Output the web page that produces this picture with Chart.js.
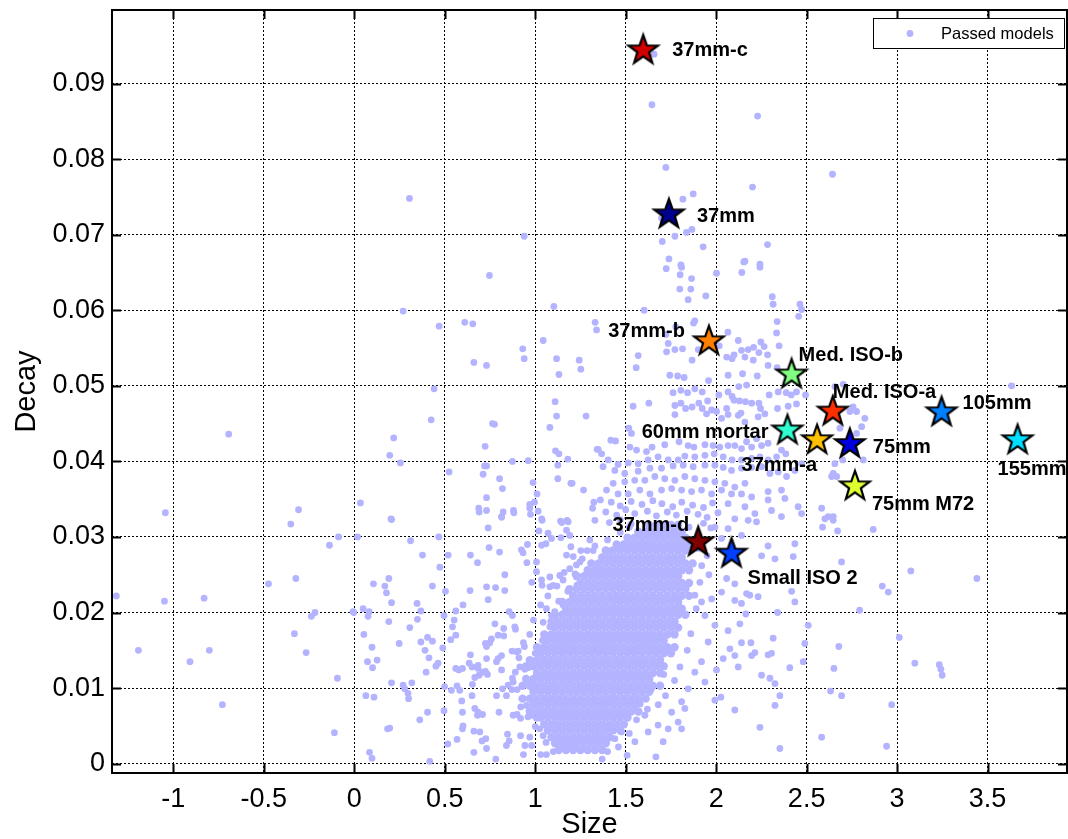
<!DOCTYPE html>
<html>
<head>
<meta charset="utf-8">
<title>Decay vs Size</title>
<script src="https://cdn.jsdelivr.net/npm/chart.js@4.4.0/dist/chart.umd.min.js"></script>
<style>
    html, body { margin: 0; padding: 0; background: #fff; }
    #wrap { width: 1068px; height: 839px; }
</style>
</head>
<body>
<div id="wrap"><canvas id="decayChart" width="1068" height="839"></canvas></div>
<script>
// Named targets (stars)
var targetNames = ['37mm-c', '37mm', '37mm-b', 'Med. ISO-b', 'Med. ISO-a', '60mm mortar', '37mm-a', '75mm', '105mm', '155mm', '75mm M72', '37mm-d', 'Small ISO 2'];
var targetSize = [1.597, 1.739, 1.960, 2.417, 2.645, 2.394, 2.558, 2.739, 3.246, 3.666, 2.767, 1.901, 2.085];
var targetDecay = [0.0944, 0.0727, 0.0559, 0.0515, 0.0466, 0.0441, 0.0428, 0.0423, 0.0465, 0.0428, 0.0367, 0.0293, 0.0278];

var xTicks = [-1, -0.5, 0, 0.5, 1, 1.5, 2, 2.5, 3, 3.5];
var yTicks = [0, 0.01, 0.02, 0.03, 0.04, 0.05, 0.06, 0.07, 0.08, 0.09];

// Passed models, scattered points [size, decay]
var passedOuter = [
    [0.305,.0748],[0.939,.0698],[1.657,.0939],[1.645,.0872],[2.229,.0857],[1.722,.0789],[2.201,.0763],[2.643,.078],[1.816,.0747],[1.873,.0754],
    [1.698,.0722],[1.772,.0698],[1.836,.0703],[1.866,.0707],[1.702,.0691],[1.928,.0684],[2.284,.0687],[1.739,.0668],[2.159,.0665],[2.242,.0661],[1.805,.066],
    [-0.694,.0436],[-1.044,.0332],[-0.308,.0336],
    [0.747,.0646],[0.27,.0599],[0.469,.0579],[0.611,.0584],[0.655,.0582],[1.103,.0605],[1.331,.0584],[1.339,.0574],[1.044,.056],[0.931,.0549],
    [0.939,.0536],[0.661,.0531],[0.731,.0527],[1.118,.0536],[1.243,.0534],[1.252,.0522],[1.131,.0515],[0.441,.0496],[1.11,.0479],[1.118,.046],
    [1.281,.046],[0.425,.0455],[0.764,.045],[0.775,.0449],[1.081,.0445],[0.218,.0431],[0.723,.042],[0.196,.0408],[0.255,.0398],[1.112,.0414],
    [1.131,.041],[1.342,.0416],[1.18,.0403],[0.874,.04],[0.961,.0401],[0.524,.0386],[0.72,.0394],[0.731,.0394],[0.712,.0383],[1.125,.0395],
    [0.803,.0377],[0.988,.0372],[1.125,.0377],[1.197,.0371],[1.204,.0371],[0.819,.0364],[1.267,.0362],[1.01,.0357],[0.034,.0345],[0.731,.0352],
    [0.97,.0343],[0.996,.0346],[1.324,.0346],[1.317,.0338],[0.688,.0338],[0.69,.0333],[0.731,.0335],[0.823,.0333],[0.814,.0327],[0.88,.0335],
    [0.882,.0332],[0.97,.0338],[1.016,.0334],[0.974,.033],[0.203,.0324],[1.036,.0324],[1.14,.0321],[1.176,.0322],
    [1.724,.0655],[1.809,.0657],[1.801,.0647],[1.864,.0642],[2.002,.0649],[2.153,.0664],[2.142,.065],[2.242,.0657],[1.799,.0628],[1.86,.0628],
    [1.943,.0619],[1.845,.0614],[2.31,.0618],[2.315,.0608],[2.463,.0608],[2.472,.0601],[1.602,.06],[1.882,.0586],[1.875,.0583],[1.777,.0578],
    [1.722,.0568],[1.735,.0556],[1.814,.0549],[1.772,.0548],[1.726,.0545],[1.569,.054],[1.558,.0524],[1.901,.0548],[1.867,.0534],[2.065,.0571],
    [2.122,.056],[2.017,.0553],[2.058,.0538],[2.099,.0541],[2.14,.0547],[2.177,.0548],[2.207,.0551],[2.247,.0558],[2.265,.0552],[2.236,.0544],
    [2.205,.0534],[2.284,.0541],[2.334,.057],[2.337,.0585],[2.348,.0553],[2.456,.0592],[2.159,.0538],[2.088,.0536],[2.287,.0527],[2.337,.0524],
    [1.744,.0514],[1.787,.0513],[1.823,.0511],[1.958,.0507],[2.066,.0514],[2.146,.0516],[2.227,.0513],[2.125,.0499],[2.168,.0501],[2.066,.0492],
    [2.088,.0486],[2.099,.0481],[2.129,.048],[2.162,.0479],[2.196,.0477],[2.236,.0477],[2.245,.047],[2.293,.0488],[2.343,.0492],[2.387,.0491],
    [2.415,.0488],[2.444,.0492],[2.494,.0488],[2.398,.0473],[2.444,.0476],[2.339,.047],[2.269,.0463],[2.232,.0459],[2.137,.0464],[2.159,.0452],
    [2.122,.0461],[2.015,.0488],[1.923,.0492],[1.842,.0491],[1.882,.0496],[1.805,.0494],[1.762,.0491],[1.805,.0477],[1.831,.047],[1.867,.0472],
    [1.904,.0477],[1.953,.048],[1.923,.047],[1.975,.0468],[2.002,.0466],[2.058,.047],[1.772,.0474],[1.772,.0462],[1.628,.0477],[1.541,.0473],
    [1.947,.0463],[2.03,.0457],[2.066,.0462],
    [1.517,.0444],[1.532,.0437],[1.418,.0428],[1.444,.0427],[1.348,.0416],[1.367,.041],[1.523,.0419],[1.56,.0415],[1.615,.0413],[1.646,.0419],
    [1.716,.0422],[1.795,.0426],[1.845,.0421],[1.877,.0419],[1.938,.0422],[1.983,.0421],[2.02,.0419],[2.066,.0421],[2.103,.0421],[2.14,.0417],
    [2.168,.0426],[2.196,.0419],[2.223,.043],[2.251,.0421],[2.287,.0424],[2.361,.0415],[2.385,.041],[2.334,.0406],[2.287,.0402],[2.242,.0406],
    [2.196,.0404],[2.14,.0402],[2.088,.0402],[2.039,.0406],[1.989,.041],[1.938,.0408],[1.882,.0406],[1.827,.0407],[1.79,.0402],[1.735,.0402],
    [1.679,.0406],[1.624,.0402],[1.569,.0397],[1.514,.0398],[1.458,.0396],[1.403,.0402],[1.375,.0393],[1.44,.0388],[1.495,.0384],[1.569,.0387],
    [1.634,.0391],[1.698,.0391],[1.762,.0394],[1.818,.0395],[1.873,.0393],[1.938,.0395],[1.993,.0395],[2.039,.0392],[2.085,.0388],[2.14,.0391],
    [2.196,.0392],[2.251,.0393],[2.297,.0384],[2.343,.0386],[2.389,.038],[2.435,.0388],[2.472,.0397],[2.647,.0384],[2.361,.0362],[2.287,.036],
    [2.159,.0371],[2.103,.0366],[2.048,.0371],[1.993,.0373],[1.938,.0375],[1.882,.0377],[1.827,.038],[1.772,.0375],[1.716,.0377],[1.661,.038],
    [1.606,.0375],[1.55,.0375],[1.495,.0373],[1.431,.0371],[1.394,.0362],[1.458,.0357],[1.514,.0357],[1.578,.0362],[1.634,.0357],[1.698,.0362],
    [1.754,.0364],[1.809,.0362],[1.864,.036],[1.919,.0362],[1.975,.0357],[2.03,.0362],[2.085,.0357],[2.14,.0357],[2.196,.0353],[2.287,.0349],
    [2.38,.0351],[2.453,.034],[2.066,.0344],[2.159,.034],[2.214,.0331],[2.306,.0335],[2.361,.0327],[2.472,.0331],[2.583,.0338],[2.619,.0327],
    [1.36,.0349],[1.42,.0346],[1.47,.0341],[1.53,.0347],[1.59,.0343],[1.65,.0348],[1.70,.0344],[1.76,.034],[1.81,.0346],[1.87,.0342],
    [1.93,.0339],[1.98,.0345],[1.39,.0333],[1.45,.0329],[1.5,.0336],[1.55,.0331],[1.62,.0334],[1.67,.0328],[1.73,.0333],[1.78,.0329],
    [1.84,.0334],[1.9,.033],[1.95,.0326],[2.01,.0332],[1.33,.0322],[1.41,.0319],[1.47,.0323],[1.53,.0317],[1.93,.0318],[1.97,.0312],
    [3.633,.05],[2.656,.0499],[2.702,.0502],[2.757,.0472],[2.739,.0466],[2.776,.0466],[2.822,.0457],[2.684,.0444],[2.776,.0437],[2.804,.0446],
    [2.813,.0402],[2.699,.0402],[2.656,.0397],[2.638,.038],[2.666,.038],[2.647,.0327],
    [-0.351,.0317],[-0.137,.0289],[-0.087,.03],[-1.315,.0222],[-1.049,.0215],[-0.83,.0219],[-0.474,.0238],[-0.323,.0245],[-0.237,.0195],[-0.217,.02],
    [-0.007,.0201],[-0.331,.0172],[-1.193,.015],[-0.801,.015],[-0.908,.0135],[-0.266,.0147],[-0.093,.0113],[-0.729,.0078],[-0.11,.0041],
    [0.206,.0323],[0.018,.03],[0.311,.0295],[0.467,.03],[0.377,.0276],[0.519,.0276],[0.473,.026],[0.106,.0238],[0.191,.0245],[0.169,.0235],
    [0.178,.0226],[0.432,.0235],[0.206,.0213],[-0.003,.02],[0.049,.0205],[0.082,.0201],[0.076,.0195],[0.347,.0212],[0.368,.0202],[0.349,.0191],
    [0.191,.0188],[0.496,.0196],[0.504,.0228],[0.561,.0202],[0.552,.019],[0.543,.0181],[0.561,.017],[0.533,.0164],[0.601,.021],[0.64,.0229],
    [0.642,.0276],[0.681,.0266],[0.731,.0234],[0.781,.0233],[0.74,.0217],[0.832,.025],[0.832,.0229],[0.745,.0286],[0.803,.028],[0.74,.0312],
    [0.814,.0326],[0.924,.0283],[0.933,.0279],[0.957,.029],[0.954,.0266],[0.981,.024],
    [0.053,.0171],[0.098,.0154],[0.248,.0159],[0.307,.018],[0.368,.0161],[0.405,.0167],[0.432,.0162],[0.391,.015],[0.413,.014],[0.397,.0121],
    [0.463,.0133],[0.451,.0129],[0.489,.0153],[0.073,.0135],[0.101,.0127],[0.126,.0137],[0.206,.0107],[0.27,.0104],[0.279,.0099],[0.297,.0093],
    [0.3,.0086],[0.318,.0107],[0.064,.009],[0.109,.0088],[0.362,.0058],[0.405,.0068],[0.184,.0046],[0.196,.0047],[0.084,.0015],[0.098,.0007],
    [0.417,.0003],[0.496,.007],[0.517,.0026],[0.568,.0032],[0.598,.0046],[0.601,.005],[0.661,.0043],[0.694,.0042],[0.706,.003],[0.727,.0033],
    [0.731,.002],[0.661,.0015],[0.782,.0006],[0.681,.0064],[0.709,.0065],[0.666,.0073],[0.684,.0068],[0.598,.0068],[0.594,.0083],[0.651,.009],
    [0.653,.0105],[0.499,.0102],[0.537,.0097],[0.568,.0103],[0.583,.0097],[0.561,.0126],[0.578,.0124],[0.598,.0126],[0.635,.0133],[0.651,.0128],
    [0.684,.0126],[0.69,.0117],[0.666,.0114],[0.684,.013],[0.725,.0122],[0.736,.0118],[0.709,.0121],[0.642,.0144],[0.725,.0159],[0.731,.0155],
    [0.749,.016],[0.758,.0165],[0.731,.0139],[0.786,.0135],[0.795,.0139],[0.814,.0143],[0.777,.0185],[0.795,.017],[0.826,.0169],[0.826,.0179],
    [0.856,.0201],[0.874,.0196],[0.887,.0181],[0.891,.0178],[0.935,.016],[0.872,.0149],[0.897,.0148],[0.906,.0149],[0.814,.0124],[0.874,.0113],
    [0.915,.0128],[0.943,.0125],[0.97,.0128],[0.985,.0135],[0.786,.009],[0.8,.0068],[0.819,.0099],[0.841,.009],[0.85,.0104],[0.871,.0098],
    [0.878,.0108],[0.847,.0039],[0.856,.003],[0.841,.0024],[0.878,.0064],[0.9,.0065],[0.919,.006],[0.919,.0037],[0.943,.0024],[0.97,.0035],
    [0.98,.0024],[0.935,.0012],[0.952,.0077],[0.98,.0064],[1.007,.006],[1.025,.0046],[1.044,.0037],[1.031,.0012],[1.062,.0012],[1.007,.0254],
    [1.035,.0243],[1.038,.0236],[1.081,.0234],[1.007,.0267],[1.02,.0308],[1.071,.0305],[1.09,.0298],[1.035,.0289],[1.059,.0291],[1.038,.0322],
    [1.147,.0319],[1.182,.032],[1.173,.0309],[1.191,.0302],[1.142,.0299],[1.252,.0282],[1.287,.0282],[1.197,.0287],[1.173,.0276],[1.21,.0274],
    [1.247,.0267],[1.302,.0296],[1.32,.0282],[1.081,.0247],[1.099,.0236],[1.136,.0249],[1.154,.0243],[1.191,.0258],[1.228,.0263],[1.062,.0205],
    [1.108,.0201],[1.154,.021],[1.191,.0196],[1.044,.0187],[1.081,.0181],[1.118,.0183],[1.154,.0185],[1.132,.0019],[1.182,.002],[1.215,.0023],
    [1.283,.0019],[1.247,.0035],[1.206,.0034],
    [2.223,.032],[2.287,.0288],[2.251,.0275],[2.325,.0271],[2.426,.0274],[2.435,.0291],[2.588,.0313],[2.601,.0324],[2.186,.0223],[2.232,.0221],
    [2.103,.0216],[2.14,.0212],[2.417,.0228],[2.435,.0214],[2.339,.02],[2.509,.0183],[2.164,.0198],[2.066,.0176],[2.131,.0185],[2.14,.016],
    [2.192,.016],[2.076,.0152],[2.103,.0143],[2.196,.0143],[2.214,.0147],[2.287,.0144],[2.306,.0146],[2.315,.0166],[2.49,.0159],[2.481,.0135],
    [2.407,.0127],[2.251,.0117],[2.297,.0113],[2.325,.0106],[2.352,.009],[2.325,.0077],[2.242,.0048],[2.352,.002],[2.583,.0035],[2.122,.0128],
    [2.039,.0139],[2.002,.0124],[2.026,.0088],[1.993,.0084],[2.103,.0071],[1.809,.0046],[1.707,.0029],[1.667,.0009],[1.508,.0011],
    [1.956,.0161],[1.919,.0135],[1.882,.0121],[1.938,.0108],[1.845,.0099],[1.809,.0082],[1.754,.0068],[1.827,.0073],[1.79,.0055],[1.735,.0046],
    [1.679,.0051],[1.606,.0064],[1.624,.0042],[1.551,.0029],[1.477,.0042],[1.44,.0033],[1.422,.0046],
    [1.938,.0196],[1.975,.0218],[1.919,.0214],[1.882,.0223],[1.993,.0183],[2.058,.0245],[2.103,.0238],[2.168,.0225],[2.03,.0227],
    [1.993,.0313],[2.066,.0311],[2.103,.0324],[2.177,.0322],[2.14,.0302],[2.03,.0298],
    [1.90,.0285],[1.95,.0275],[1.92,.0262],[1.96,.025],[1.91,.024],[1.89,.0205],[1.86,.0172],[1.84,.015],[1.80,.0128],[1.77,.011],
    [1.72,.009],[1.68,.0078],[1.62,.0072],[1.56,.0058],[1.52,.004],[1.46,.0022],[1.40,.0016],[1.37,.0006],[1.10,.0016],[1.06,.0028],
    [1.00,.0049],[0.96,.0062],[0.92,.0075],[0.90,.0098],[0.89,.0121],[0.91,.014],[0.94,.0155],[0.97,.0171],[0.99,.019],[1.03,.021],
    [1.07,.0222],[1.12,.0235],[1.16,.0253],[1.22,.0251],[1.26,.0271],[1.33,.0288],[1.40,.0296],[1.47,.0306],[1.52,.0313],[1.85,.0313],
    [1.74,.0148],[1.78,.0181],[1.71,.0118],[1.64,.0098],[1.58,.0079],[1.50,.0062],[1.44,.0051],[1.36,.0037],[1.03,.0064],[0.98,.0109],
    [0.96,.0127],[1.00,.0146],[1.04,.0163],[1.09,.0196],[1.13,.0215],[1.18,.0228],[1.23,.0236],[1.29,.0251],[1.35,.0263],[1.42,.0282],
    [2.647,.0322],[2.671,.0308],[2.868,.031],[2.693,.0267],[3.076,.0255],[3.441,.0245],[2.918,.0235],[2.951,.0227],[2.793,.0203],[3.012,.0167],
    [2.678,.0155],[2.651,.0126],[3.098,.0133],[3.233,.0131],[3.242,.0125],[3.249,.0117],[2.632,.0096],[2.693,.009],[2.97,.0078],[2.942,.0023]
];

// Passed models, dense cluster: [decay, sizes along that decay]
var clusterRows = [
    [.0018, [1.13,1.17,1.21,1.25,1.29,1.33,1.37]],
    [.0027, [1.11,1.15,1.19,1.23,1.27,1.31,1.35,1.39]],
    [.0035, [1.09,1.13,1.17,1.21,1.25,1.29,1.33,1.37,1.41]],
    [.0044, [1.07,1.11,1.15,1.19,1.23,1.27,1.31,1.35,1.39,1.43,1.47]],
    [.0052, [1.05,1.09,1.13,1.17,1.21,1.25,1.29,1.33,1.37,1.41,1.45,1.49]],
    [.0061, [1.03,1.07,1.11,1.15,1.19,1.23,1.27,1.31,1.35,1.39,1.43,1.47,1.51]],
    [.0069, [0.97,1.01,1.05,1.09,1.13,1.17,1.21,1.25,1.29,1.33,1.37,1.41,1.45,1.49,1.53,1.57]],
    [.0078, [0.99,1.03,1.07,1.11,1.15,1.19,1.23,1.27,1.31,1.35,1.39,1.43,1.47,1.51,1.55]],
    [.0086, [0.93,0.97,1.01,1.05,1.09,1.13,1.17,1.21,1.25,1.29,1.33,1.37,1.41,1.45,1.49,1.53,1.57,1.61]],
    [.0095, [0.99,1.03,1.07,1.11,1.15,1.19,1.23,1.27,1.31,1.35,1.39,1.43,1.47,1.51,1.55,1.59,1.63]],
    [.0103, [0.93,0.97,1.01,1.05,1.09,1.13,1.17,1.21,1.25,1.29,1.33,1.37,1.41,1.45,1.49,1.53,1.57,1.61,1.65,1.69]],
    [.0112, [0.95,0.99,1.03,1.07,1.11,1.15,1.19,1.23,1.27,1.31,1.35,1.39,1.43,1.47,1.51,1.55,1.59,1.63]],
    [.0120, [1.01,1.05,1.09,1.13,1.17,1.21,1.25,1.29,1.33,1.37,1.41,1.45,1.49,1.53,1.57,1.61,1.65,1.69]],
    [.0129, [0.95,0.99,1.03,1.07,1.11,1.15,1.19,1.23,1.27,1.31,1.35,1.39,1.43,1.47,1.51,1.55,1.59,1.63,1.67,1.71]],
    [.0137, [0.97,1.01,1.05,1.09,1.13,1.17,1.21,1.25,1.29,1.33,1.37,1.41,1.45,1.49,1.53,1.57,1.61,1.65,1.69]],
    [.0146, [1.03,1.07,1.11,1.15,1.19,1.23,1.27,1.31,1.35,1.39,1.43,1.47,1.51,1.55,1.59,1.63,1.67,1.71,1.75]],
    [.0154, [1.01,1.05,1.09,1.13,1.17,1.21,1.25,1.29,1.33,1.37,1.41,1.45,1.49,1.53,1.57,1.61,1.65,1.69,1.73,1.77]],
    [.0163, [1.07,1.11,1.15,1.19,1.23,1.27,1.31,1.35,1.39,1.43,1.47,1.51,1.55,1.59,1.63,1.67,1.71]],
    [.0171, [1.05,1.09,1.13,1.17,1.21,1.25,1.29,1.33,1.37,1.41,1.45,1.49,1.53,1.57,1.61,1.65,1.69,1.73,1.77]],
    [.0180, [1.11,1.15,1.19,1.23,1.27,1.31,1.35,1.39,1.43,1.47,1.51,1.55,1.59,1.63,1.67,1.71,1.75,1.79]],
    [.0188, [1.09,1.13,1.17,1.21,1.25,1.29,1.33,1.37,1.41,1.45,1.49,1.53,1.57,1.61,1.65,1.69,1.73,1.77]],
    [.0197, [1.11,1.15,1.19,1.23,1.27,1.31,1.35,1.39,1.43,1.47,1.51,1.55,1.59,1.63,1.67,1.71,1.75,1.79,1.83]],
    [.0205, [1.17,1.21,1.25,1.29,1.33,1.37,1.41,1.45,1.49,1.53,1.57,1.61,1.65,1.69,1.73,1.77,1.81]],
    [.0214, [1.15,1.19,1.23,1.27,1.31,1.35,1.39,1.43,1.47,1.51,1.55,1.59,1.63,1.67,1.71,1.75,1.79]],
    [.0222, [1.21,1.25,1.29,1.33,1.37,1.41,1.45,1.49,1.53,1.57,1.61,1.65,1.69,1.73,1.77,1.81,1.85]],
    [.0231, [1.19,1.23,1.27,1.31,1.35,1.39,1.43,1.47,1.51,1.55,1.59,1.63,1.67,1.71,1.75,1.79,1.83]],
    [.0239, [1.25,1.29,1.33,1.37,1.41,1.45,1.49,1.53,1.57,1.61,1.65,1.69,1.73,1.77,1.81,1.85]],
    [.0248, [1.23,1.27,1.31,1.35,1.39,1.43,1.47,1.51,1.55,1.59,1.63,1.67,1.71,1.75,1.79]],
    [.0256, [1.29,1.33,1.37,1.41,1.45,1.49,1.53,1.57,1.61,1.65,1.69,1.73,1.77,1.81,1.85]],
    [.0265, [1.31,1.35,1.39,1.43,1.47,1.51,1.55,1.59,1.63,1.67,1.71,1.75,1.79,1.83,1.87]],
    [.0273, [1.37,1.41,1.45,1.49,1.53,1.57,1.61,1.65,1.69,1.73,1.77,1.81]],
    [.0282, [1.39,1.43,1.47,1.51,1.55,1.59,1.63,1.67,1.71,1.75,1.79,1.83]],
    [.0290, [1.45,1.49,1.53,1.57,1.61,1.65,1.69,1.73,1.77,1.81,1.85]],
    [.0299, [1.51,1.55,1.59,1.63,1.67,1.71,1.75,1.79,1.83]],
    [.0307, [1.57,1.61,1.65,1.69,1.73,1.77,1.81]],
    [.0316, [1.63,1.67,1.71,1.75,1.79]]
];

var dotColor = 'rgb(179, 179, 255)';
var starColors = ['#d20000', '#00008f', '#ff8000', '#80ff80', '#ff3000', '#30ffcf', '#ffc000', '#0000df', '#0080ff', '#00dfff', '#dfff30', '#800000', '#0040ff'];
// label offset from the star centre: dx, dy, alignment
var labelPlacement = [
    [29, 0, 'left'], [28, 2, 'left'], [-24, -10, 'right'], [7, -19, 'left'], [0, -19, 'left'],
    [-19, 2, 'right'], [0, 25, 'right'], [23, 3, 'left'], [21, -9, 'left'], [-20, 29, 'left'],
    [17, 18, 'left'], [-9, -17, 'right'], [16, 25, 'left']
];
var FONT = '"Liberation Sans", Arial, Helvetica, sans-serif';

var clusterPoints = [];
clusterRows.forEach(function (row) {
    row[1].forEach(function (s) { clusterPoints.push({ x: s, y: row[0] }); });
});
var outerPoints = passedOuter.map(function (p) { return { x: p[0], y: p[1] }; });
var targetPoints = targetNames.map(function (_, i) { return { x: targetSize[i], y: targetDecay[i] }; });

function starImage(fill) {
    var c = document.createElement('canvas');
    c.width = 38; c.height = 38;
    var g = c.getContext('2d');
    var R = 15.5, r = R * 0.4;
    g.beginPath();
    for (var i = 0; i < 10; i++) {
        var a = -Math.PI / 2 + i * Math.PI / 5;
        var rad = i % 2 === 0 ? R : r;
        g.lineTo(19 + rad * Math.cos(a), 19 + rad * Math.sin(a));
    }
    g.closePath();
    g.fillStyle = fill;
    g.fill();
    g.lineWidth = 2.2;
    g.lineJoin = 'miter';
    g.strokeStyle = '#000';
    g.stroke();
    return c;
}
var starImages = starColors.map(starImage);

// no extra room for overhanging tick labels, the axes box is placed by layout padding
function noLabelPadding(s) {
    s.paddingTop = 0; s.paddingBottom = 0; s.paddingLeft = 0; s.paddingRight = 0;
}

// axes box with inward tick marks on all four sides
var axesBox = {
    id: 'axesBox',
    afterDraw: function (chart) {
        var ctx = chart.ctx, a = chart.chartArea, xs = chart.scales.x, ys = chart.scales.y;
        var tl = 9;
        ctx.save();
        ctx.strokeStyle = '#000';
        ctx.lineWidth = 2;
        ctx.beginPath();
        xTicks.forEach(function (v) {
            var px = Math.round(xs.getPixelForValue(v)) + 0.5;
            ctx.moveTo(px, a.bottom); ctx.lineTo(px, a.bottom - tl);
            ctx.moveTo(px, a.top); ctx.lineTo(px, a.top + tl);
        });
        yTicks.forEach(function (v) {
            var py = Math.round(ys.getPixelForValue(v)) + 0.5;
            ctx.moveTo(a.left, py); ctx.lineTo(a.left + tl, py);
            ctx.moveTo(a.right, py); ctx.lineTo(a.right - tl, py);
        });
        ctx.stroke();
        ctx.strokeRect(a.left, a.top, a.right - a.left, a.bottom - a.top);
        ctx.restore();
    }
};

var targetLabels = {
    id: 'targetLabels',
    afterDatasetsDraw: function (chart) {
        var ctx = chart.ctx, xs = chart.scales.x, ys = chart.scales.y;
        ctx.save();
        ctx.font = 'bold 20px ' + FONT;
        ctx.fillStyle = '#000';
        ctx.textBaseline = 'middle';
        targetNames.forEach(function (name, i) {
            var o = labelPlacement[i];
            ctx.textAlign = o[2];
            ctx.fillText(name, xs.getPixelForValue(targetSize[i]) + o[0], ys.getPixelForValue(targetDecay[i]) + o[1]);
        });
        ctx.restore();
    }
};

var boxLegend = {
    id: 'boxLegend',
    afterDraw: function (chart) {
        var ctx = chart.ctx;
        ctx.save();
        ctx.fillStyle = '#fff';
        ctx.fillRect(873, 18, 191, 30);
        ctx.strokeStyle = '#000';
        ctx.lineWidth = 1;
        ctx.strokeRect(873.5, 18.5, 191, 30);
        ctx.fillStyle = dotColor;
        ctx.beginPath();
        ctx.arc(910, 33.5, 3.4, 0, Math.PI * 2);
        ctx.fill();
        ctx.fillStyle = '#000';
        ctx.font = '16.5px ' + FONT;
        ctx.textBaseline = 'middle';
        ctx.textAlign = 'left';
        ctx.fillText(chart.data.datasets[1].label, 941, 34);
        ctx.restore();
    }
};

var ctx = document.getElementById('decayChart').getContext('2d');

var decayChart = new Chart(ctx, {
    type: 'scatter',
    data: {
        datasets: [{
            label: 'Targets',
            data: targetPoints,
            pointStyle: starImages,
            pointRadius: 16,
            order: 0
        },
        {
            label: 'Passed models',
            data: outerPoints,
            backgroundColor: dotColor,
            borderWidth: 0,
            pointRadius: 3.4,
            order: 1
        },
        {
            label: 'Passed models',
            data: clusterPoints,
            backgroundColor: dotColor,
            borderWidth: 0,
            pointRadius: 4.2,
            order: 2
        }]
    },
    options: {
        responsive: false,
        animation: false,
        devicePixelRatio: 1,
        events: [],
        layout: { autoPadding: false, padding: { top: 10, right: 1, left: 0, bottom: 0 } },
        plugins: {
            legend: { display: false },
            tooltip: { enabled: false }
        },
        scales: {
            x: {
                type: 'linear',
                min: -1.339,
                max: 3.939,
                afterBuildTicks: function (s) { s.ticks = xTicks.map(function (v) { return { value: v }; }); },
                afterFit: function (s) { s.height = 66; noLabelPadding(s); },
                grid: { color: '#000', lineWidth: 1, drawTicks: false, borderDash: [2, 2] },
                border: { display: false, dash: [2, 2] },
                ticks: {
                    color: '#000',
                    padding: 10,
                    font: { family: FONT, size: 27 },
                    callback: function (v) { return String(parseFloat(v.toFixed(1))); }
                },
                title: { display: true, text: 'Size', color: '#000', font: { family: FONT, size: 29, lineHeight: 1 }, padding: { top: 0, bottom: 0 } }
            },
            y: {
                type: 'linear',
                min: -0.00124,
                max: 0.09974,
                afterBuildTicks: function (s) { s.ticks = yTicks.map(function (v) { return { value: v }; }); },
                afterFit: function (s) { s.width = 112; noLabelPadding(s); },
                grid: { color: '#000', lineWidth: 1, drawTicks: false, borderDash: [2, 2] },
                border: { display: false, dash: [2, 2] },
                ticks: {
                    color: '#000',
                    padding: 7,
                    font: { family: FONT, size: 27 },
                    callback: function (v) { return String(parseFloat(v.toFixed(2))); }
                },
                title: { display: true, text: 'Decay', color: '#000', font: { family: FONT, size: 29 }, padding: { top: 10, bottom: 0 } }
            }
        }
    },
    plugins: [targetLabels, axesBox, boxLegend]
});
</script>
</body>
</html>
